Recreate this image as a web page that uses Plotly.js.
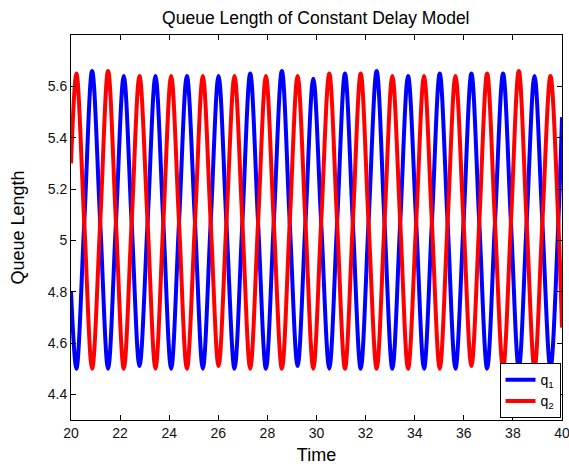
<!DOCTYPE html>
<html>
<head>
<meta charset="utf-8">
<script src="https://cdn.plot.ly/plotly-3.0.1.min.js"></script>
<style>html,body{margin:0;padding:0;background:#fff;}#chart{width:569px;height:472px;}</style>
</head>
<body>
<div id="chart"></div>
<script>
// Time samples (peaks, mid-crossings, troughs)
const time = [20.00,
  20.22,20.54,20.86,21.19, 21.51,21.83,22.15,22.47, 22.79,23.12,23.44,23.76,
  24.08,24.40,24.72,25.05, 25.37,25.69,26.01,26.33, 26.66,26.98,27.30,27.62,
  27.94,28.26,28.59,28.91, 29.23,29.55,29.87,30.19, 30.52,30.84,31.16,31.48,
  31.80,32.12,32.45,32.77, 33.09,33.41,33.73,34.06, 34.38,34.70,35.02,35.34,
  35.66,35.99,36.31,36.63, 36.95,37.27,37.60,37.92, 38.24,38.56,38.88,39.20,
  39.53,39.85,40.00];

// q1 (blue)
const q1 = [4.80,
  4.50,5.07,5.66,5.07, 4.50,5.07,5.64,5.07, 4.51,5.07,5.64,5.07,
  4.50,5.07,5.64,5.07, 4.50,5.07,5.64,5.07, 4.50,5.07,5.65,5.07,
  4.50,5.07,5.66,5.07, 4.51,5.07,5.63,5.07, 4.50,5.07,5.65,5.07,
  4.50,5.07,5.66,5.07, 4.50,5.07,5.64,5.07, 4.50,5.07,5.65,5.07,
  4.50,5.07,5.65,5.07, 4.50,5.07,5.65,5.07, 4.50,5.07,5.64,5.07,
  4.50,5.07,5.48];

// q2 (red)
const q2 = [5.30,
  5.65,5.07,4.50,5.07, 5.66,5.07,4.50,5.07, 5.64,5.07,4.50,5.07,
  5.64,5.07,4.50,5.07, 5.64,5.07,4.51,5.07, 5.64,5.07,4.50,5.07,
  5.64,5.07,4.50,5.07, 5.64,5.07,4.50,5.07, 5.65,5.07,4.50,5.07,
  5.65,5.07,4.50,5.07, 5.64,5.07,4.50,5.07, 5.64,5.07,4.50,5.07,
  5.64,5.07,4.51,5.07, 5.65,5.07,4.50,5.07, 5.66,5.07,4.50,5.07,
  5.64,5.07,4.66];

const seriesNames = ['q<sub>1</sub>', 'q<sub>2</sub>'];
const yTickVals = [4.4, 4.6, 4.8, 5.0, 5.2, 5.4, 5.6];
const yTickText = ['4.4', '4.6', '4.8', '5', '5.2', '5.4', '5.6'];
const xTickVals = [20, 22, 24, 26, 28, 30, 32, 34, 36, 38, 40];
const xTickText = ['20', '22', '24', '26', '28', '30', '32', '34', '36', '38', '40'];

const font = 'Liberation Sans, Arial, Helvetica, sans-serif';

const traces = [
  {x: time, y: q1, name: seriesNames[0], type: 'scatter', mode: 'lines',
   line: {color: '#0000ff', width: 4, shape: 'spline', smoothing: 1}},
  {x: time, y: q2, name: seriesNames[1], type: 'scatter', mode: 'lines',
   line: {color: '#ff0000', width: 4, shape: 'spline', smoothing: 1}}
];

const axisCommon = {
  showline: true, linecolor: '#000', linewidth: 1, mirror: 'ticks',
  ticks: 'inside', ticklen: 5, tickcolor: '#000', tickwidth: 1,
  showgrid: false, zeroline: false, ticklabeloverflow: 'allow',
  tickfont: {family: font, size: 14, color: '#111'}
};

const layout = {
  width: 569, height: 472,
  paper_bgcolor: '#fff', plot_bgcolor: '#fff',
  margin: {l: 71, r: 7, t: 35, b: 52},
  title: {text: 'Queue Length of Constant Delay Model', font: {family: font, size: 17.5, color: '#000'},
          x: 0.555, xanchor: 'center', y: 0.962, yanchor: 'middle'},
  xaxis: Object.assign({}, axisCommon, {range: [20, 40], tickvals: xTickVals, ticktext: xTickText,
    title: {text: 'Time', font: {family: font, size: 18, color: '#000'}, standoff: 8}}),
  yaxis: Object.assign({}, axisCommon, {range: [4.3, 5.8], tickvals: yTickVals, ticktext: yTickText,
    title: {text: 'Queue Length', font: {family: font, size: 18, color: '#000'}, standoff: 18}}),
  showlegend: true,
  legend: {x: 0.997, y: 0.005, xanchor: 'right', yanchor: 'bottom',
    bgcolor: '#fff', bordercolor: '#000', borderwidth: 1,
    font: {family: font, size: 14, color: '#000'}, tracegroupgap: 0, itemwidth: 30}
};

Plotly.newPlot('chart', traces, layout, {displayModeBar: false, staticPlot: true});
</script>
</body>
</html>
